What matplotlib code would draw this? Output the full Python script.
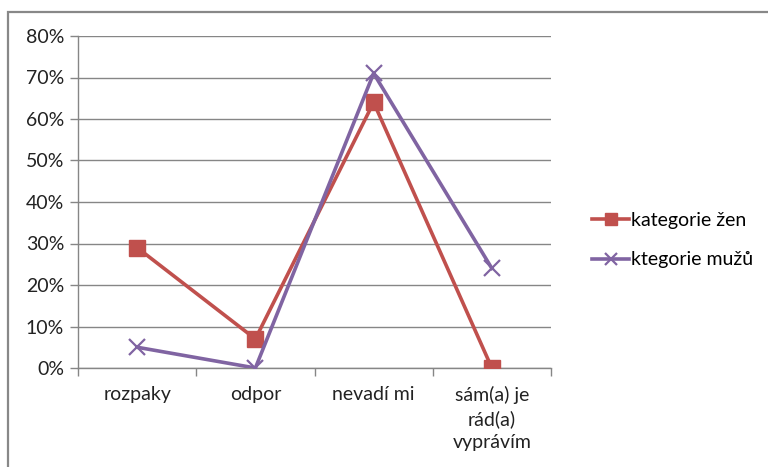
import matplotlib.pyplot as plt
from matplotlib.patches import Rectangle
from matplotlib.ticker import FixedLocator, PercentFormatter

plt.rcParams['font.family'] = ['Lato', 'DejaVu Sans']

categories = ["rozpaky", "odpor", "nevadí mi", "sám(a) je\nrád(a)\nvyprávím"]
zeny = [29, 7, 64, 0]
muzi = [5, 0, 71, 24]

fig = plt.figure(figsize=(7.68, 4.67), dpi=100)
ax = fig.add_axes([78 / 768, 1 - 368 / 467, 473 / 768, 332 / 467])

x = range(len(categories))
ax.plot(x, zeny, color="#C0504D", lw=2.6, marker="s", ms=11,
        label="kategorie žen", zorder=3)
ax.plot(x, muzi, color="#8064A2", lw=2.6, marker="x", ms=11, mew=1.6,
        label="ktegorie mužů", zorder=4)

ax.set_xlim(-0.5, 3.5)
ax.set_ylim(0, 80)
ax.set_yticks(range(0, 81, 10))
ax.yaxis.set_major_formatter(PercentFormatter(decimals=0))
ax.grid(axis="y", color="#868686", lw=1)
ax.set_axisbelow(True)

ax.set_xticks(list(x))
ax.set_xticklabels(categories, fontsize=14, color="#222222", linespacing=1.4)
ax.xaxis.set_minor_locator(FixedLocator([-0.5, 0.5, 1.5, 2.5, 3.5]))
ax.tick_params(axis="x", which="major", length=0, pad=13)
ax.tick_params(axis="x", which="minor", length=6, color="#868686", width=1)
ax.tick_params(axis="y", length=6, color="#868686", width=1, labelsize=14,
               labelcolor="#222222", pad=4)

for side in ["top", "right"]:
    ax.spines[side].set_visible(False)
for side in ["left", "bottom"]:
    ax.spines[side].set_color("#868686")
    ax.spines[side].set_linewidth(1)

leg = ax.legend(loc="center left", bbox_to_anchor=(1.05, 0.385), frameon=False,
                fontsize=14, handlelength=1.9, handletextpad=0.1,
                labelspacing=1.15, markerscale=0.85)

# chart frame
fig.patches.append(Rectangle((8 / 768, -0.1), 1.2, 1 - 12 / 467 + 0.1,
                             transform=fig.transFigure, fill=False,
                             edgecolor="#888888", lw=1.6))

fig.savefig("out.png", dpi=100)
